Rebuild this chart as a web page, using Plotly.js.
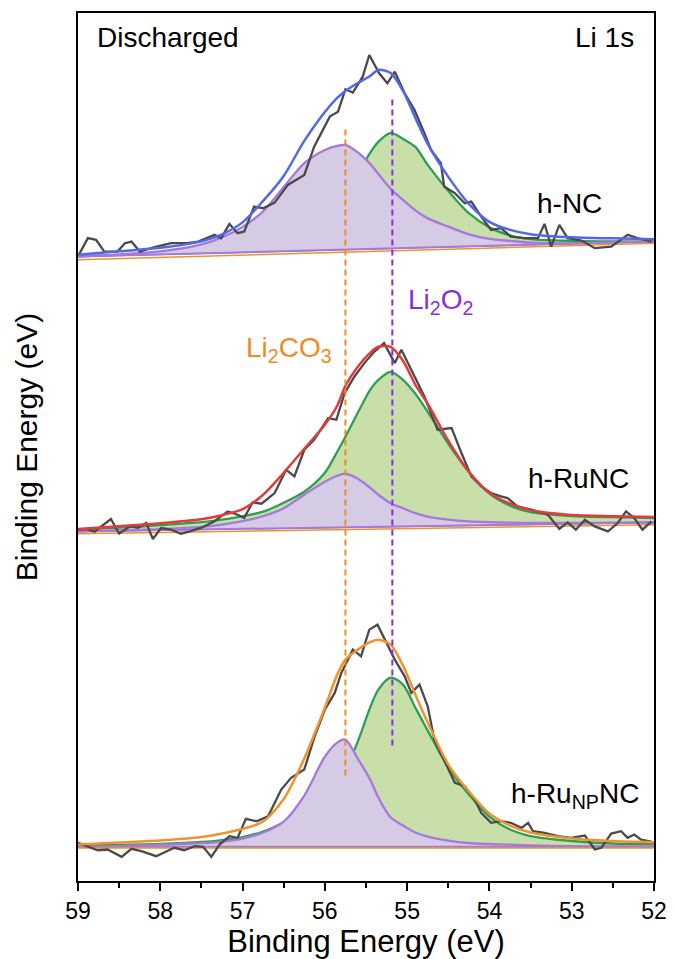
<!DOCTYPE html>
<html>
<head>
<meta charset="utf-8">
<script src="https://cdn.plot.ly/plotly-3.0.1.min.js"></script>
<style>html,body{margin:0;padding:0;background:#fff;}#chart{width:675px;height:959px;}</style>
</head>
<body>
<div id="chart"></div>
<script>
// ---- Data (binding energy in eV, intensity in arbitrary stacked units) ----
const compE = [59, 58.5, 58, 57.5, 57.25, 57, 56.75, 56.5, 56.25, 56, 55.85, 55.75, 55.6, 55.45, 55.35, 55.2, 55.05, 54.9, 54.75, 54.5, 54.25, 54, 53.75, 53.5, 53, 52.5, 52];
const baseE = [59, 52];

// h-NC (top)
const hnc_base = [623.3, 638.3];
const hnc_bg = [620, 636.5];
const hnc_li2co3 = [623.3, 625.5, 628.5, 635.5, 642.5, 653, 668.6, 692.8, 716.7, 730, 734, 735, 727.5, 716, 706, 691, 680, 669.5, 661.5, 653.2, 645.5, 641, 639, 637.3, 636.5, 637.5, 638.3];
const hnc_li2o2 = [623.5, 625, 627, 629, 630.5, 632, 635, 640, 652, 667, 677, 685, 705, 727, 738, 747, 741, 733, 715, 689, 666.7, 652.5, 644.5, 640.7, 639, 638.5, 638.3];
const hnc_fit = [625, 628.5, 632, 638.5, 645.5, 657.5, 679, 704, 739, 768, 782, 789, 797, 804, 810, 807, 789, 762, 736, 703, 676, 658, 650, 645.7, 642.5, 641.5, 640.7];
const hnc_rawE = [58.99, 58.88, 58.78, 58.68, 58.52, 58.43, 58.35, 58.25, 58.07, 57.87, 57.67, 57.54, 57.34, 57.26, 57.16, 57.06, 56.98, 56.86, 56.75, 56.61, 56.45, 56.25, 56.13, 55.94, 55.84, 55.75, 55.66, 55.54, 55.46, 55.34, 55.24, 55.15, 55.03, 54.91, 54.79, 54.71, 54.59, 54.55, 54.42, 54.30, 54.22, 54.10, 53.98, 53.86, 53.74, 53.57, 53.41, 53.33, 53.25, 53.15, 53.05, 52.88, 52.72, 52.52, 52.32, 52.20, 52.03];
const hnc_raw = [625, 641.7, 640, 628.3, 628.3, 636.7, 638.3, 628.3, 632.7, 636.7, 636.7, 638.3, 645, 641.7, 656, 646.7, 648.3, 673.3, 671.7, 677.3, 695, 705, 733.3, 763.3, 768.3, 790.7, 787.3, 803.3, 825, 806.7, 796.7, 808.3, 786.7, 770, 746.7, 730, 716.7, 693.3, 686.7, 676.7, 678.3, 663.3, 650, 651.7, 643.3, 641.7, 641.7, 656, 633.3, 655, 641.7, 639.3, 631.7, 633.3, 645, 641.7, 638.3];

// h-RuNC (middle)
const hrunc_base = [348.3, 357.3];
const hrunc_bg = [346, 355];
const hrunc_li2co3 = [348.3, 349.2, 350.5, 352.8, 355, 358.5, 363.5, 371.5, 385, 398, 404, 406, 401, 392, 385, 376.5, 371.5, 366.5, 363, 360, 358.3, 357.5, 357, 356.8, 356.8, 357, 357.3];
const hrunc_li2o2 = [350, 352, 354.5, 357.5, 360, 363.5, 368, 377, 388, 407, 428, 443, 467, 490, 500, 508, 500, 486, 468, 436, 408, 386, 374, 367.5, 363.5, 362.5, 361.7];
const hrunc_fit = [350.7, 353.5, 356.5, 360.5, 364.5, 370.5, 385, 407, 431, 455, 474, 494, 513, 527, 533, 533, 519, 495, 476, 439, 408, 387, 376, 369.5, 364.8, 363.5, 362.7];
const hrunc_rawE = [59.00, 58.90, 58.80, 58.72, 58.60, 58.50, 58.37, 58.27, 58.17, 58.09, 57.99, 57.87, 57.75, 57.65, 57.50, 57.35, 57.18, 57.06, 56.98, 56.88, 56.77, 56.61, 56.47, 56.37, 56.25, 56.13, 55.96, 55.86, 55.76, 55.64, 55.52, 55.40, 55.28, 55.15, 55.07, 54.91, 54.79, 54.63, 54.46, 54.34, 54.22, 54.10, 53.98, 53.86, 53.78, 53.66, 53.49, 53.29, 53.15, 53.05, 52.95, 52.84, 52.72, 52.56, 52.44, 52.34, 52.24, 52.14, 52.03];
const hrunc_raw = [350, 350.7, 348, 353.3, 360.7, 346, 353.3, 352, 356.7, 340.7, 351.7, 350, 346, 348, 352, 358, 368.3, 365, 361.7, 377.3, 376, 386.7, 410, 403.3, 430, 440, 461.7, 460, 486.7, 503.3, 516.7, 528, 536.7, 516.7, 530, 503.3, 483.3, 450, 451.7, 426.7, 403.3, 393.3, 386.7, 383.3, 381.7, 373.3, 370, 365, 350.7, 357.3, 350, 360, 353.3, 348.3, 356.7, 368.3, 361.7, 350, 358.3];

// h-RuNPNC (bottom)
const hrunpnc_base = [32.7, 32.7];
const hrunpnc_bg = [31.5, 31.5];
const hrunpnc_li2co3 = [32.7, 33.3, 34.8, 36.3, 38, 41, 47, 58, 84, 123, 137, 140, 121, 100, 82, 62, 54, 47, 43, 39, 36.5, 35.5, 34.8, 34, 33.3, 33, 33];
const hrunpnc_li2o2 = [34, 34.5, 35.5, 37.5, 39.5, 42.5, 48, 57, 68, 85, 97, 110, 138, 172, 190, 202, 195, 172, 149, 112, 85, 63, 50, 43.5, 38.5, 36, 35.7];
const hrunpnc_fit = [35, 37, 39, 42.5, 46, 50.5, 58, 80.5, 121, 172, 205, 220, 230, 237.5, 240, 235, 214, 185, 157, 115, 88, 66, 54, 47, 41, 38.5, 37.3];
const hrunpnc_rawE = [59.00, 58.88, 58.76, 58.64, 58.47, 58.35, 58.23, 58.05, 57.95, 57.83, 57.71, 57.58, 57.48, 57.38, 57.28, 57.16, 57.06, 56.96, 56.83, 56.69, 56.53, 56.41, 56.25, 56.13, 56.00, 55.88, 55.80, 55.66, 55.56, 55.46, 55.36, 55.25, 55.15, 55.03, 54.95, 54.85, 54.75, 54.67, 54.55, 54.42, 54.30, 54.18, 54.10, 53.98, 53.86, 53.74, 53.61, 53.53, 53.47, 53.33, 53.17, 53.01, 52.84, 52.72, 52.64, 52.52, 52.40, 52.32, 52.24, 52.16, 52.03];
const hrunpnc_raw = [36.7, 32.7, 29.3, 30, 22.7, 30.7, 28.3, 23.3, 27.3, 31.7, 29.3, 33.3, 32.7, 22.7, 35, 43.3, 41.7, 60.7, 58.3, 63.3, 90, 101.7, 110, 141.7, 170, 186.7, 206.7, 230, 223.3, 250, 255, 236.7, 220, 203.3, 186.7, 195, 173.3, 140, 120, 96.7, 93.3, 80, 66.7, 56.7, 58.3, 56.7, 51.7, 56.7, 48.3, 46.7, 43.3, 41.7, 44, 30, 31.7, 46, 48.3, 41.7, 45, 40, 38];

// reference lines (Li2CO3, Li2O2)
const refNames = ['Li<sub>2</sub>CO<sub>3</sub>', 'Li<sub>2</sub>O<sub>2</sub>'];
const refE = [55.75, 55.18];
const refTop = [752, 783];
const refBottom = [104, 134];
const refLabelE = [56.98, 55.01];
const refLabelY = [530, 578];

// sample labels
const sampleNames = ['h-NC', 'h-RuNC', 'h-Ru<sub>NP</sub>NC'];
const sampleLabelE = [53.45, 53.55, 53.76];
const sampleLabelY = [676, 401, 84];

const xTicks = [59, 58, 57, 56, 55, 54, 53, 52];

// ---- styles ----
const FONT = 'Liberation Sans, Arial, Helvetica, sans-serif';
const C = {
  raw: '#4a4a4a', purple: '#a578dc', purpleFill: '#d5cbe5', green: '#2f9e55', greenFill: '#c9dfa9',
  bg: '#f0922d', blue: '#5368e6', red: '#e03c3c', orange: '#f0922d', refOrange: '#f28a1e', refPurple: '#8a2be8'
};

const panels = [
  {base: hnc_base, bg: hnc_bg, a: hnc_li2co3, b: hnc_li2o2, fit: hnc_fit, rawE: hnc_rawE, raw: hnc_raw, fitColor: C.blue},
  {base: hrunc_base, bg: hrunc_bg, a: hrunc_li2co3, b: hrunc_li2o2, fit: hrunc_fit, rawE: hrunc_rawE, raw: hrunc_raw, fitColor: C.red},
  {base: hrunpnc_base, bg: hrunpnc_bg, a: hrunpnc_li2co3, b: hrunpnc_li2o2, fit: hrunpnc_fit, rawE: hrunpnc_rawE, raw: hrunpnc_raw, fitColor: C.orange}
];

const traces = [];
panels.forEach(p => {
  traces.push({x: baseE, y: p.base, mode: 'lines', line: {color: C.green, width: 1.5}, hoverinfo: 'skip', showlegend: false});
  traces.push({x: compE, y: p.b, mode: 'lines', fill: 'tonexty', fillcolor: C.greenFill, line: {color: C.green, width: 2.3, shape: 'spline', smoothing: 0.8}, showlegend: false});
  traces.push({x: baseE, y: p.base, mode: 'lines', line: {color: C.purple, width: 2}, hoverinfo: 'skip', showlegend: false});
  traces.push({x: compE, y: p.a, mode: 'lines', fill: 'tonexty', fillcolor: C.purpleFill, line: {color: C.purple, width: 2.3, shape: 'spline', smoothing: 0.8}, showlegend: false});
  traces.push({x: baseE, y: p.bg, mode: 'lines', line: {color: C.bg, width: 1.5}, showlegend: false});
  traces.push({x: p.rawE, y: p.raw, mode: 'lines', line: {color: C.raw, width: 2.3}, showlegend: false});
  traces.push({x: compE, y: p.fit, mode: 'lines', line: {color: p.fitColor, width: 2.5, shape: 'spline', smoothing: 0.8}, showlegend: false});
});

const refColors = [C.refOrange, C.refPurple];
refE.forEach((e, i) => {
  traces.push({x: [e, e], y: [refBottom[i], refTop[i]], mode: 'lines', line: {color: refColors[i], width: 2, dash: '6px,4px'}, showlegend: false});
});

const annotations = [
  {x: 58.79, y: 842, xref: 'x', yref: 'y', text: 'Discharged', showarrow: false, xanchor: 'left', yanchor: 'middle', font: {family: FONT, size: 28, color: '#000'}},
  {x: 52.22, y: 842, xref: 'x', yref: 'y', text: 'Li 1s', showarrow: false, xanchor: 'right', yanchor: 'middle', font: {family: FONT, size: 28, color: '#000'}}
];
refNames.forEach((n, i) => {
  annotations.push({x: refLabelE[i], y: refLabelY[i], xref: 'x', yref: 'y', text: n, showarrow: false, xanchor: 'left', yanchor: 'middle', font: {family: FONT, size: 28, color: refColors[i]}});
});
sampleNames.forEach((n, i) => {
  annotations.push({x: sampleLabelE[i], y: sampleLabelY[i], xref: 'x', yref: 'y', text: n, showarrow: false, xanchor: 'left', yanchor: 'middle', font: {family: FONT, size: 28, color: '#000'}});
});

const layout = {
  width: 675, height: 959,
  margin: {l: 78, r: 21, t: 13, b: 78},
  paper_bgcolor: '#fff', plot_bgcolor: '#fff',
  font: {family: FONT, color: '#000'},
  xaxis: {
    range: [59, 52], tickvals: xTicks, ticktext: xTicks.map(String),
    ticks: 'outside', ticklen: 8, tickwidth: 2, tickcolor: '#000',
    minor: {dtick: 0.5, ticks: 'outside', ticklen: 5, tickwidth: 2, tickcolor: '#000'},
    showline: true, linecolor: '#000', linewidth: 2, mirror: true,
    showgrid: false, zeroline: false,
    tickfont: {family: FONT, size: 23, color: '#000'},
    title: {text: 'Binding Energy (eV)', font: {family: FONT, size: 31, color: '#000'}, standoff: 4}
  },
  yaxis: {
    range: [-1.5, 867], showticklabels: false, ticks: '',
    showline: true, linecolor: '#000', linewidth: 2, mirror: true,
    showgrid: false, zeroline: false,
    title: {text: 'Binding Energy (eV)', font: {family: FONT, size: 30, color: '#000'}, standoff: 30}
  },
  annotations: annotations,
  showlegend: false
};

Plotly.newPlot('chart', traces, layout, {displayModeBar: false, staticPlot: true});
</script>
</body>
</html>
